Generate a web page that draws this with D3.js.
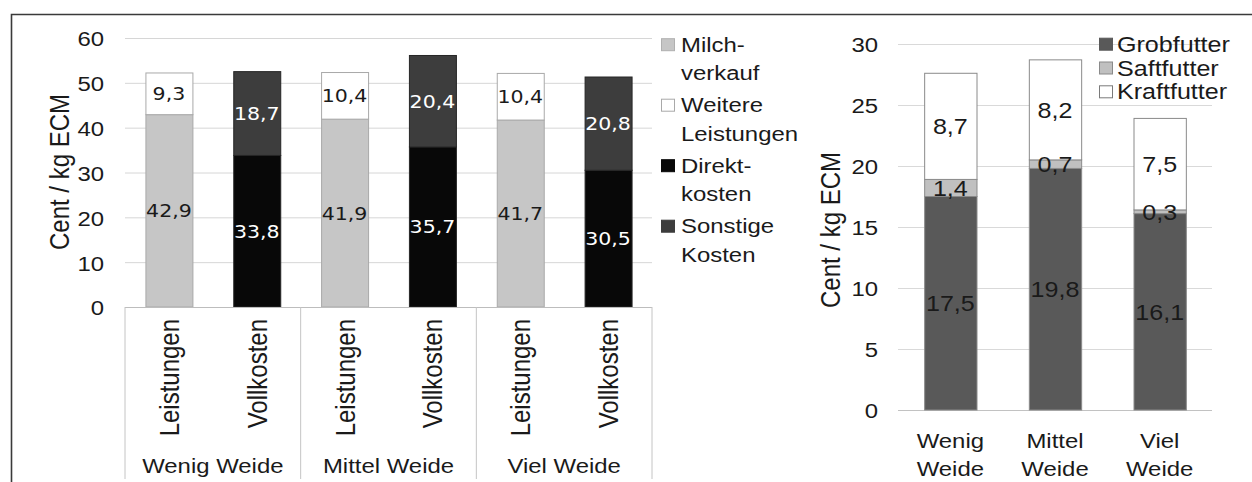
<!DOCTYPE html>
<html>
<head>
<meta charset="utf-8">
<script src="https://cdn.jsdelivr.net/npm/d3@7"></script>
<style>
  body { margin: 0; background: #fff; }
  svg { display: block; }
  text { font-family: Arial, "Liberation Sans", sans-serif; fill: #1a1a1a; }
</style>
</head>
<body>
<div id="chart"></div>
<script>
// --- data (left chart: Leistungen vs. Vollkosten) ---
var groups = ["Wenig Weide", "Mittel Weide", "Viel Weide"];
var barTypes = ["Leistungen", "Vollkosten"];
var milchverkauf = [42.9, 41.9, 41.7];
var weitereLeistungen = [9.3, 10.4, 10.4];
var direktkosten = [33.8, 35.7, 30.5];
var sonstigeKosten = [18.7, 20.4, 20.8];
var leftTicks = [0, 10, 20, 30, 40, 50, 60];
var leftLegend = [["Milch-", "verkauf"], ["Weitere", "Leistungen"], ["Direkt-", "kosten"], ["Sonstige", "Kosten"]];

// --- data (right chart: Futterkosten) ---
var feedGroups = [["Wenig", "Weide"], ["Mittel", "Weide"], ["Viel", "Weide"]];
var grobfutter = [17.5, 19.8, 16.1];
var saftfutter = [1.4, 0.7, 0.3];
var kraftfutter = [8.7, 8.2, 7.5];
var rightTicks = [0, 5, 10, 15, 20, 25, 30];
var rightLegend = ["Grobfutter", "Saftfutter", "Kraftfutter"];

var width = 1252, height = 482;
var SX = 1.14; // the scan is a bit wider than tall, stretch text the same way
var fmt = function(v) { return d3.format(".1f")(v).replace(".", ","); };

var svg = d3.select("#chart").append("svg")
  .attr("width", width)
  .attr("height", height);

function place(sel, x, y, rot) {
  sel.attr("transform", "translate(" + x + "," + y + ") scale(" + SX + ",1)" + (rot ? " rotate(-90)" : ""));
  return sel;
}

// frame
svg.append("path")
  .attr("d", "M11.5,482 V14.5 H1252")
  .style("fill", "none")
  .style("stroke", "#3a3a3a")
  .style("stroke-width", 1.6);

// ================= left chart =================
var L = {x0: 125, x1: 652, y0: 307, y1: 38};

var yL = d3.scaleLinear().domain([0, 60]).range([L.y0, L.y1]);

var keys = [];
groups.forEach(function(g) { barTypes.forEach(function(t) { keys.push(g + "|" + t); }); });

var xL = d3.scaleBand().domain(keys).range([L.x0, L.x1])
  .paddingInner(0.465).paddingOuter(0.2325);
var xG = d3.scaleBand().domain(groups).range([L.x0, L.x1]);

var gridL = svg.append("g")
  .attr("transform", "translate(" + L.x0 + ",0)")
  .call(d3.axisLeft(yL).tickValues(leftTicks).tickSize(-(L.x1 - L.x0)).tickPadding(0).tickFormat(d3.format("d")));
gridL.select(".domain").remove();
gridL.selectAll("line").style("stroke", "#d6d6d6");
gridL.selectAll("text")
  .attr("x", null).attr("dy", "0.38em")
  .style("font-size", "21px")
  .style("text-anchor", "end")
  .attr("fill", "#1a1a1a")
  .each(function() { place(d3.select(this), -21, 0); });

// stacked data
var leftStacks = [];
groups.forEach(function(g, i) {
  leftStacks.push({key: g + "|Leistungen", segs: [
    {v: milchverkauf[i], fill: "#c6c6c6", stroke: "#a9a9a9", txt: "#1a1a1a"},
    {v: weitereLeistungen[i], fill: "#ffffff", stroke: "#a9a9a9", txt: "#1a1a1a"}
  ]});
  leftStacks.push({key: g + "|Vollkosten", segs: [
    {v: direktkosten[i], fill: "#080808", stroke: "#262626", txt: "#ffffff"},
    {v: sonstigeKosten[i], fill: "#3d3d3d", stroke: "#262626", txt: "#ffffff"}
  ]});
});
leftStacks.forEach(function(s) {
  var acc = 0;
  s.segs.forEach(function(d) { d.y0 = acc; acc += d.v; d.y1 = acc; d.key = s.key; });
});

var barsL = svg.selectAll("g.stackL")
  .data(leftStacks)
  .enter().append("g")
  .attr("class", "stackL");

barsL.selectAll("rect")
  .data(function(s) { return s.segs; })
  .enter().append("rect")
  .attr("x", function(d) { return xL(d.key) + 0.5; })
  .attr("y", function(d) { return yL(d.y1); })
  .attr("width", xL.bandwidth())
  .attr("height", function(d) { return yL(d.y0) - yL(d.y1); })
  .style("fill", function(d) { return d.fill; })
  .style("stroke", function(d) { return d.stroke; })
  .style("stroke-width", 1);

barsL.selectAll("text")
  .data(function(s) { return s.segs; })
  .enter().append("text")
  .text(function(d) { return fmt(d.v); })
  .attr("dy", "0.36em")
  .style("text-anchor", "middle")
  .style("font-family", "'DejaVu Sans', sans-serif")
  .style("font-size", "18px")
  .style("fill", function(d) { return d.txt; })
  .each(function(d) {
    place(d3.select(this), xL(d.key) + xL.bandwidth() / 2, yL((d.y0 + d.y1) / 2));
  });

// category box below the axis
svg.append("line")
  .attr("x1", L.x0).attr("x2", L.x1)
  .attr("y1", L.y0 + 0.5).attr("y2", L.y0 + 0.5)
  .style("stroke", "#bdbdbd");
svg.selectAll("line.sep")
  .data(groups.concat(["end"]))
  .enter().append("line")
  .attr("class", "sep")
  .attr("x1", function(d) { return d === "end" ? L.x1 : xG(d); })
  .attr("x2", function(d) { return d === "end" ? L.x1 : xG(d); })
  .attr("y1", L.y0).attr("y2", 479)
  .style("stroke", "#c4c4c4");

svg.selectAll("text.catL")
  .data(keys)
  .enter().append("text")
  .attr("class", "catL")
  .text(function(d) { return d.split("|")[1]; })
  .style("font-size", "24px")
  .style("text-anchor", "end")
  .each(function(d) {
    place(d3.select(this), xL(d) + xL.bandwidth() / 2 + 10, 319, true);
  });

svg.selectAll("text.grpL")
  .data(groups)
  .enter().append("text")
  .attr("class", "grpL")
  .text(function(d) { return d; })
  .style("font-size", "21px")
  .style("text-anchor", "middle")
  .each(function(d) {
    place(d3.select(this), xG(d) + xG.bandwidth() / 2, 473);
  });

place(svg.append("text"), 69, 172, true)
  .text("Cent / kg ECM")
  .style("font-size", "24px")
  .style("text-anchor", "middle");

// left legend
var legColorsL = [["#c6c6c6", "#b0b0b0"], ["#ffffff", "#a9a9a9"], ["#080808", "#080808"], ["#3d3d3d", "#3d3d3d"]];
var legL = svg.selectAll("g.legL")
  .data(leftLegend)
  .enter().append("g")
  .attr("class", "legL")
  .attr("transform", function(d, i) { return "translate(0," + (51.7 + i * 60.5) + ")"; });
legL.append("rect")
  .attr("x", 661.5).attr("y", -13).attr("width", 13).attr("height", 12)
  .style("fill", function(d, i) { return legColorsL[i][0]; })
  .style("stroke", function(d, i) { return legColorsL[i][1]; });
legL.each(function(lines) {
  var g = d3.select(this);
  lines.forEach(function(s, j) {
    place(g.append("text"), 681, j * 28.3).text(s).style("font-size", "21px");
  });
});

// ================= right chart =================
var R = {x0: 898, x1: 1212, y0: 410, y1: 44};
var yR = d3.scaleLinear().domain([0, 30]).range([R.y0, R.y1]);
var xR = d3.scaleBand().domain(d3.range(feedGroups.length)).range([R.x0, R.x1])
  .paddingInner(0.5).paddingOuter(0.25);

var gridR = svg.append("g")
  .attr("transform", "translate(" + R.x0 + ",0)")
  .call(d3.axisLeft(yR).tickValues(rightTicks).tickSize(-(R.x1 - R.x0)).tickPadding(0).tickFormat(d3.format("d")));
gridR.select(".domain").remove();
gridR.selectAll("line").style("stroke", function(d) { return d === 0 ? "#c2c2c2" : "#d9d9d9"; });
gridR.selectAll("text")
  .attr("x", null).attr("dy", "0.38em")
  .style("font-size", "21px")
  .style("text-anchor", "end")
  .attr("fill", "#1a1a1a")
  .each(function() { place(d3.select(this), -20, 0); });

var rightStacks = feedGroups.map(function(g, i) {
  var segs = [
    {v: grobfutter[i], fill: "#595959"},
    {v: saftfutter[i], fill: "#c0c0c0"},
    {v: kraftfutter[i], fill: "#ffffff"}
  ];
  var acc = 0;
  segs.forEach(function(d) { d.y0 = acc; acc += d.v; d.y1 = acc; d.i = i; });
  return segs;
});

var barsR = svg.selectAll("g.stackR")
  .data(rightStacks)
  .enter().append("g")
  .attr("class", "stackR");

barsR.selectAll("rect")
  .data(function(s) { return s; })
  .enter().append("rect")
  .attr("x", function(d) { return xR(d.i) + 0.5; })
  .attr("y", function(d) { return yR(d.y1); })
  .attr("width", xR.bandwidth())
  .attr("height", function(d) { return yR(d.y0) - yR(d.y1); })
  .style("fill", function(d) { return d.fill; })
  .style("stroke", "#8a8a8a")
  .style("stroke-width", 1);

barsR.selectAll("text")
  .data(function(s) { return s; })
  .enter().append("text")
  .text(function(d) { return fmt(d.v); })
  .attr("dy", "0.36em")
  .style("text-anchor", "middle")
  .style("font-size", "22px")
  .each(function(d) {
    place(d3.select(this), xR(d.i) + xR.bandwidth() / 2, yR((d.y0 + d.y1) / 2));
  });

svg.selectAll("g.catR")
  .data(feedGroups)
  .enter().append("g")
  .attr("class", "catR")
  .each(function(lines, i) {
    var g = d3.select(this);
    lines.forEach(function(s, j) {
      place(g.append("text"), xR(i) + xR.bandwidth() / 2, 448 + j * 28)
        .text(s)
        .style("font-size", "21px")
        .style("text-anchor", "middle");
    });
  });

place(svg.append("text"), 840, 230, true)
  .text("Cent / kg ECM")
  .style("font-size", "24px")
  .style("text-anchor", "middle");

var legColorsR = [["#595959", "#595959"], ["#c0c0c0", "#8a8a8a"], ["#ffffff", "#7a7a7a"]];
var legR = svg.selectAll("g.legR")
  .data(rightLegend)
  .enter().append("g")
  .attr("class", "legR")
  .attr("transform", function(d, i) { return "translate(0," + (51.7 + i * 23.8) + ")"; });
legR.append("rect")
  .attr("x", 1099.5).attr("y", -13.5).attr("width", 13).attr("height", 12)
  .style("fill", function(d, i) { return legColorsR[i][0]; })
  .style("stroke", function(d, i) { return legColorsR[i][1]; });
legR.each(function(s) {
  place(d3.select(this).append("text"), 1117, 0).text(s).style("font-size", "22px");
});
</script>
</body>
</html>
